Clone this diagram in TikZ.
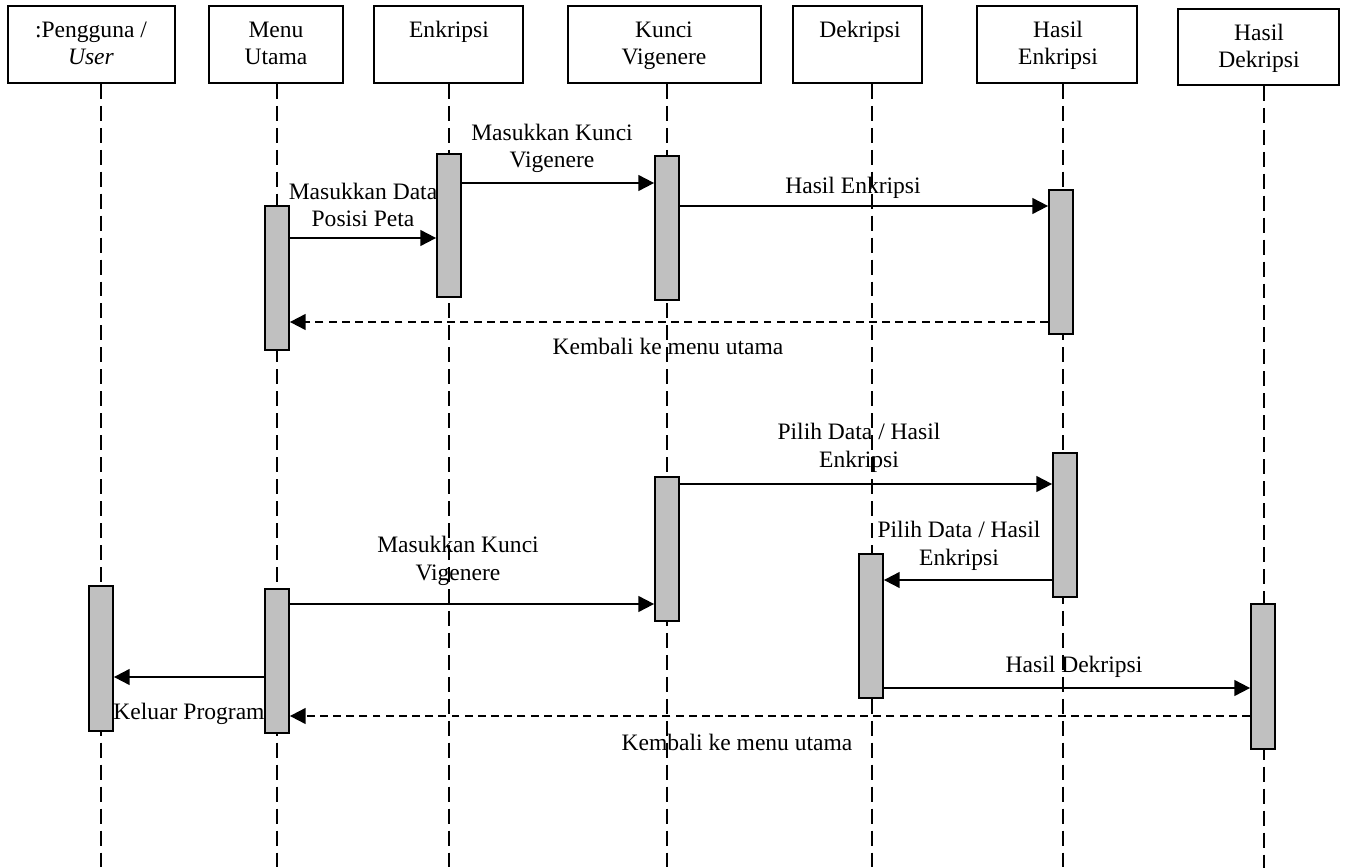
\documentclass[tikz,border=0pt]{standalone}
\usepackage{fontspec}
\setmainfont{Liberation Serif}
\usetikzlibrary{arrows.meta,fit}
\definecolor{actgray}{HTML}{C0C0C0}
\begin{document}
\begin{tikzpicture}[x=0.02cm,y=-0.02cm,
  every node/.style={font=\fontsize{13.4}{15.6}\selectfont},
  head/.style={draw,line width=1pt,inner sep=0pt},
  htext/.style={anchor=base,align=center,inner sep=0pt},
  life/.style={line width=1.1pt,dash pattern=on 8.5pt off 4pt},
  act/.style={draw,line width=1pt,fill=actgray,inner sep=0pt},
  msg/.style={line width=1.1pt,-{Triangle[length=9pt,width=9pt]}},
  ret/.style={msg,dash pattern=on 4.5pt off 3pt},
  lbl/.style={anchor=base,align=center,inner sep=0pt}]

\useasboundingbox (0,0) rectangle (1346,868);

% header boxes
\node[head,fit={(8,6) (175,83)}] (hP) {};
\node[head,fit={(209,6) (343,83)}] (hM) {};
\node[head,fit={(374,6) (523,83)}] (hE) {};
\node[head,fit={(568,6) (761,83)}] (hK) {};
\node[head,fit={(793,6) (922,83)}] (hD) {};
\node[head,fit={(977,6) (1137,83)}] (hHE) {};
\node[head,fit={(1178,9) (1339,85)}] (hHD) {};

% header texts (base = baseline of the last line)
\node[htext] (tP) at (91,65) {:Pengguna /\\\textit{User}};
\node[htext] (tM) at (276,65) {Menu\\Utama};
\node[htext] (tE) at (449,38) {Enkripsi};
\node[htext] (tK) at (664,65) {Kunci\\Vigenere};
\node[htext] (tD) at (860,38) {Dekripsi};
\node[htext] (tHE) at (1058,65) {Hasil\\Enkripsi};
\node[htext] (tHD) at (1259,68) {Hasil\\Dekripsi};

% lifelines
\coordinate (eP) at (101,868);
\coordinate (eM) at (277,868);
\coordinate (eE) at (449,868);
\coordinate (eK) at (667,868);
\coordinate (eD) at (872,868);
\coordinate (eHE) at (1063,868);
\coordinate (eHD) at (1264,868);
\draw[life] (hP.south -| eP) -- (eP);
\draw[life] (hM.south -| eM) -- (eM);
\draw[life] (hE.south -| eE) -- (eE);
\draw[life] (hK.south -| eK) -- (eK);
\draw[life] (hD.south -| eD) -- (eD);
\draw[life] (hHE.south -| eHE) -- (eHE);
\draw[life] (hHD.south -| eHD) -- (eHD);

% activation bars
\node[act,fit={(265,206) (289,350)}] (aM1) {};
\node[act,fit={(437,154) (461,297)}] (aE1) {};
\node[act,fit={(655,156) (679,300)}] (aK1) {};
\node[act,fit={(1049,190) (1073,334)}] (aHE1) {};
\node[act,fit={(655,477) (679,621)}] (aK2) {};
\node[act,fit={(1053,453) (1077,597)}] (aHE2) {};
\node[act,fit={(859,554) (883,698)}] (aD1) {};
\node[act,fit={(89,586) (113,731)}] (aP1) {};
\node[act,fit={(265,589) (289,733)}] (aM2) {};
\node[act,fit={(1251,604) (1275,749)}] (aHD1) {};

% message levels
\coordinate (y1) at (0,238);
\coordinate (y2) at (0,183);
\coordinate (y3) at (0,206);
\coordinate (y4) at (0,322);
\coordinate (y5) at (0,484);
\coordinate (y6) at (0,580);
\coordinate (y7) at (0,604);
\coordinate (y8) at (0,677);
\coordinate (y9) at (0,688);
\coordinate (y10) at (0,716);

% messages
\draw[msg] (aM1.east |- y1) -- (aE1.west |- y1);
\draw[msg] (aE1.east |- y2) -- (aK1.west |- y2);
\draw[msg] (aK1.east |- y3) -- (aHE1.west |- y3);
\draw[ret] (aHE1.west |- y4) -- (aM1.east |- y4);
\draw[msg] (aK2.east |- y5) -- (aHE2.west |- y5);
\draw[msg] (aHE2.west |- y6) -- (aD1.east |- y6);
\draw[msg] (aM2.east |- y7) -- (aK2.west |- y7);
\draw[msg] (aM2.west |- y8) -- (aP1.east |- y8);
\draw[msg] (aD1.east |- y9) -- (aHD1.west |- y9);
\draw[ret] (aHD1.west |- y10) -- (aM2.east |- y10);

% message labels (base = baseline of the last line)
\node[lbl] (l1) at (363,227) {Masukkan Data\\Posisi Peta};
\node[lbl] (l2) at (552,168) {Masukkan Kunci\\Vigenere};
\node[lbl] (l3) at (853,194) {Hasil Enkripsi};
\node[lbl] (l4) at (668,355) {Kembali ke menu utama};
\node[lbl] (l5) at (859,467) {Pilih Data / Hasil\\Enkripsi};
\node[lbl] (l6) at (959,565) {Pilih Data / Hasil\\Enkripsi};
\node[lbl] (l7) at (458,580) {Masukkan Kunci\\Vigenere};
\node[lbl] (l8) at (189,719) {Keluar Program};
\node[lbl] (l9) at (1074,672) {Hasil Dekripsi};
\node[lbl] (l10) at (737,750) {Kembali ke menu utama};
\end{tikzpicture}
\end{document}
